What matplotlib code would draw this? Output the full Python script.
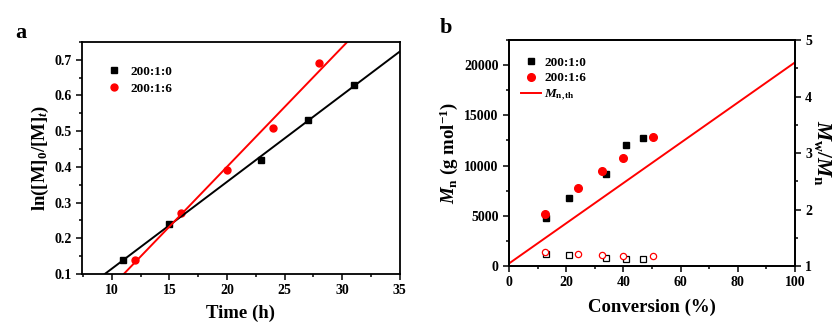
import numpy as np
import matplotlib
matplotlib.use("Agg")
import matplotlib.pyplot as plt
from matplotlib.ticker import MultipleLocator

plt.rcParams['font.family'] = ['Liberation Serif', 'DejaVu Serif']
plt.rcParams['font.weight'] = 'bold'
plt.rcParams['mathtext.fontset'] = 'custom'
plt.rcParams['mathtext.rm'] = 'Liberation Serif:bold'
plt.rcParams['mathtext.bf'] = 'Liberation Serif:bold'
plt.rcParams['mathtext.it'] = 'Liberation Serif:bold:italic'
plt.rcParams['axes.linewidth'] = 1.3

# kinetics: ln([M]0/[M]t) vs time
t_0 = [11, 15, 23, 27, 31]
ln_0 = [0.14, 0.24, 0.42, 0.53, 0.63]
t_6 = [12, 16, 20, 24, 28]
ln_6 = [0.14, 0.27, 0.39, 0.51, 0.69]

# molecular weight vs conversion
conv_0 = [13, 21, 34, 41, 47]
mn_0 = [4800, 6800, 9200, 12000, 12700]
pdi_0 = [1.22, 1.20, 1.15, 1.13, 1.13]
conv_6 = [12.5, 24, 32.5, 40, 50.5]
mn_6 = [5200, 7800, 9500, 10800, 12800]
pdi_6 = [1.24, 1.21, 1.20, 1.18, 1.17]
conv_th = [0, 100]
mn_th = [260, 20260]

fig = plt.figure(figsize=(8.36, 3.28), dpi=100)

def style_ticks(ax, **kw):
    ax.tick_params(which='both', direction='out', labelsize=10, width=1.1, **kw)
    ax.tick_params(which='major', length=4)
    ax.tick_params(which='minor', length=2.2)

# ---- panel a ----
ax1 = fig.add_axes([0.098, 0.165, 0.380, 0.707])
ax1.plot(t_0, ln_0, 's', color='black', ms=4.5, label='200:1:0')
ax1.plot(t_6, ln_6, 'o', color='red', ms=5, label='200:1:6')
xs = np.array([7.5, 35])
k0 = np.polyfit(t_0, ln_0, 1)
k6 = np.polyfit(t_6, ln_6, 1)
ax1.plot(xs, np.polyval(k0, xs), color='black', lw=1.4)
ax1.plot(xs, np.polyval(k6, xs), color='red', lw=1.4)
ax1.set_xlim(7.4, 35)
ax1.set_ylim(0.1, 0.75)
ax1.xaxis.set_major_locator(MultipleLocator(5))
ax1.xaxis.set_minor_locator(MultipleLocator(2.5))
ax1.yaxis.set_major_locator(MultipleLocator(0.1))
ax1.yaxis.set_minor_locator(MultipleLocator(0.05))
style_ticks(ax1, top=False, right=False)
ax1.set_xlabel('Time (h)', fontsize=13.5, fontweight='bold', labelpad=5)
ax1.set_ylabel(r'ln([M]$_0$/[M]$_t$)', fontsize=13.5, fontweight='bold', labelpad=2)
ax1.legend(loc='upper left', bbox_to_anchor=(0.04, 0.95), frameon=False,
           fontsize=9.5, handlelength=1.2, handletextpad=0.6, labelspacing=0.35,
           numpoints=1)
fig.text(0.018, 0.885, 'a', fontsize=16, fontweight='bold')

# ---- panel b ----
ax2 = fig.add_axes([0.609, 0.189, 0.3417, 0.689])
ax2.plot(conv_0, mn_0, 's', color='black', ms=4.5, label='200:1:0')
ax2.plot(conv_6, mn_6, 'o', color='red', ms=5.5, label='200:1:6')
ax2.plot(conv_th, mn_th, color='red', lw=1.4, label=r'$M_{\mathrm{n,th}}$')
ax2.set_xlim(0, 100)
ax2.set_ylim(0, 22500)
ax2.xaxis.set_major_locator(MultipleLocator(20))
ax2.xaxis.set_minor_locator(MultipleLocator(10))
ax2.yaxis.set_major_locator(MultipleLocator(5000))
ax2.yaxis.set_minor_locator(MultipleLocator(2500))
style_ticks(ax2, top=False, right=False)
ax2.set_xlabel('Conversion (%)', fontsize=13.5, fontweight='bold', labelpad=7)
ax2.set_ylabel(r'$M_{\mathrm{n}}$ (g mol$^{\mathrm{-1}}$)', fontsize=13.5,
               fontweight='bold', labelpad=3)
ax2.legend(loc='upper left', bbox_to_anchor=(0.0, 0.98), frameon=False,
           fontsize=9.5, handlelength=1.5, handletextpad=0.25, labelspacing=0.25,
           numpoints=1)

ax3 = ax2.twinx()
ax3.plot(conv_0, pdi_0, 's', mfc='white', mec='black', mew=0.9, ms=4)
ax3.plot(conv_6, pdi_6, 'o', mfc='white', mec='red', mew=0.9, ms=4.5)
ax3.set_ylim(1, 5)
ax3.yaxis.set_major_locator(MultipleLocator(1))
ax3.yaxis.set_minor_locator(MultipleLocator(0.5))
style_ticks(ax3)
ax3.set_ylabel(r'$M_{\mathrm{w}}$/$M_{\mathrm{n}}$', fontsize=15.5,
               fontweight='bold', rotation=270, labelpad=15)
fig.text(0.526, 0.9, 'b', fontsize=16, fontweight='bold')

fig.savefig('out.png', dpi=100)
